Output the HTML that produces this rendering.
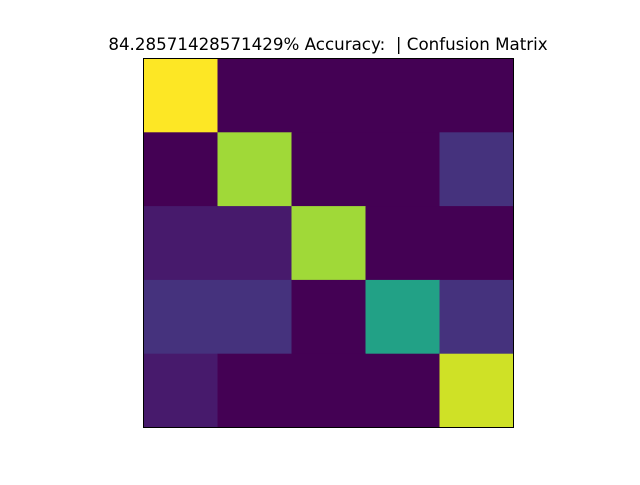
<!DOCTYPE html>
<html><head><meta charset="utf-8"><style>html,body{margin:0;padding:0;background:#fff;}</style></head>
<body>
<svg id="chart" width="640" height="480" xmlns="http://www.w3.org/2000/svg">
<rect width="640" height="480" fill="#fff"/>
<text x="328" y="50" text-anchor="middle" font-family="DejaVu Sans, Liberation Sans, sans-serif" font-size="16.7" fill="#000" style="white-space:pre" xml:space="preserve">84.28571428571429% Accuracy:  | Confusion Matrix</text>
<g id="cells"></g>
<rect x="143.5" y="58.5" width="370" height="369" fill="none" stroke="#000" stroke-width="1"/>
</svg>
<script>
const classes = [0, 1, 2, 3, 4];
const matrix = [
  [14, 0, 0, 0, 0],
  [0, 12, 0, 0, 2],
  [1, 1, 12, 0, 0],
  [2, 2, 0, 8, 2],
  [1, 0, 0, 0, 13]
];
const vmin = 0, vmax = 14;
const stops = [[0,[68,1,84]],[0.1,[72,36,117]],[0.2,[65,68,135]],[0.3,[53,95,141]],[0.4,[42,120,142]],[0.5,[33,145,140]],[0.6,[34,168,132]],[0.7,[68,191,112]],[0.8,[122,209,81]],[0.9,[189,223,38]],[1,[253,231,37]]];
function viridis(t){t=Math.max(0,Math.min(1,t));for(let i=1;i<stops.length;i++){if(t<=stops[i][0]){const a=stops[i-1],b=stops[i];const f=(t-a[0])/(b[0]-a[0]);const c=a[1].map((v,k)=>Math.round(v+(b[1][k]-v)*f));return `rgb(${c.join(',')})`;}}return 'rgb(253,231,37)';}
const x0=143.5,y0=58.5,W=370,H=369;
const n=classes.length;
function xs(j){return x0+j*W/n;}
function ys(i){return y0+i*H/n;}
const g=document.getElementById('cells');
matrix.forEach((row,i)=>row.forEach((v,j)=>{
  const r=document.createElementNS('http://www.w3.org/2000/svg','rect');
  r.setAttribute('x',xs(j));r.setAttribute('y',ys(i));
  r.setAttribute('width',W/n+0.5);r.setAttribute('height',H/n+0.5);
  r.setAttribute('fill',viridis((v-vmin)/(vmax-vmin)));
  
  
  g.appendChild(r);
}));
</script>
</body></html>
